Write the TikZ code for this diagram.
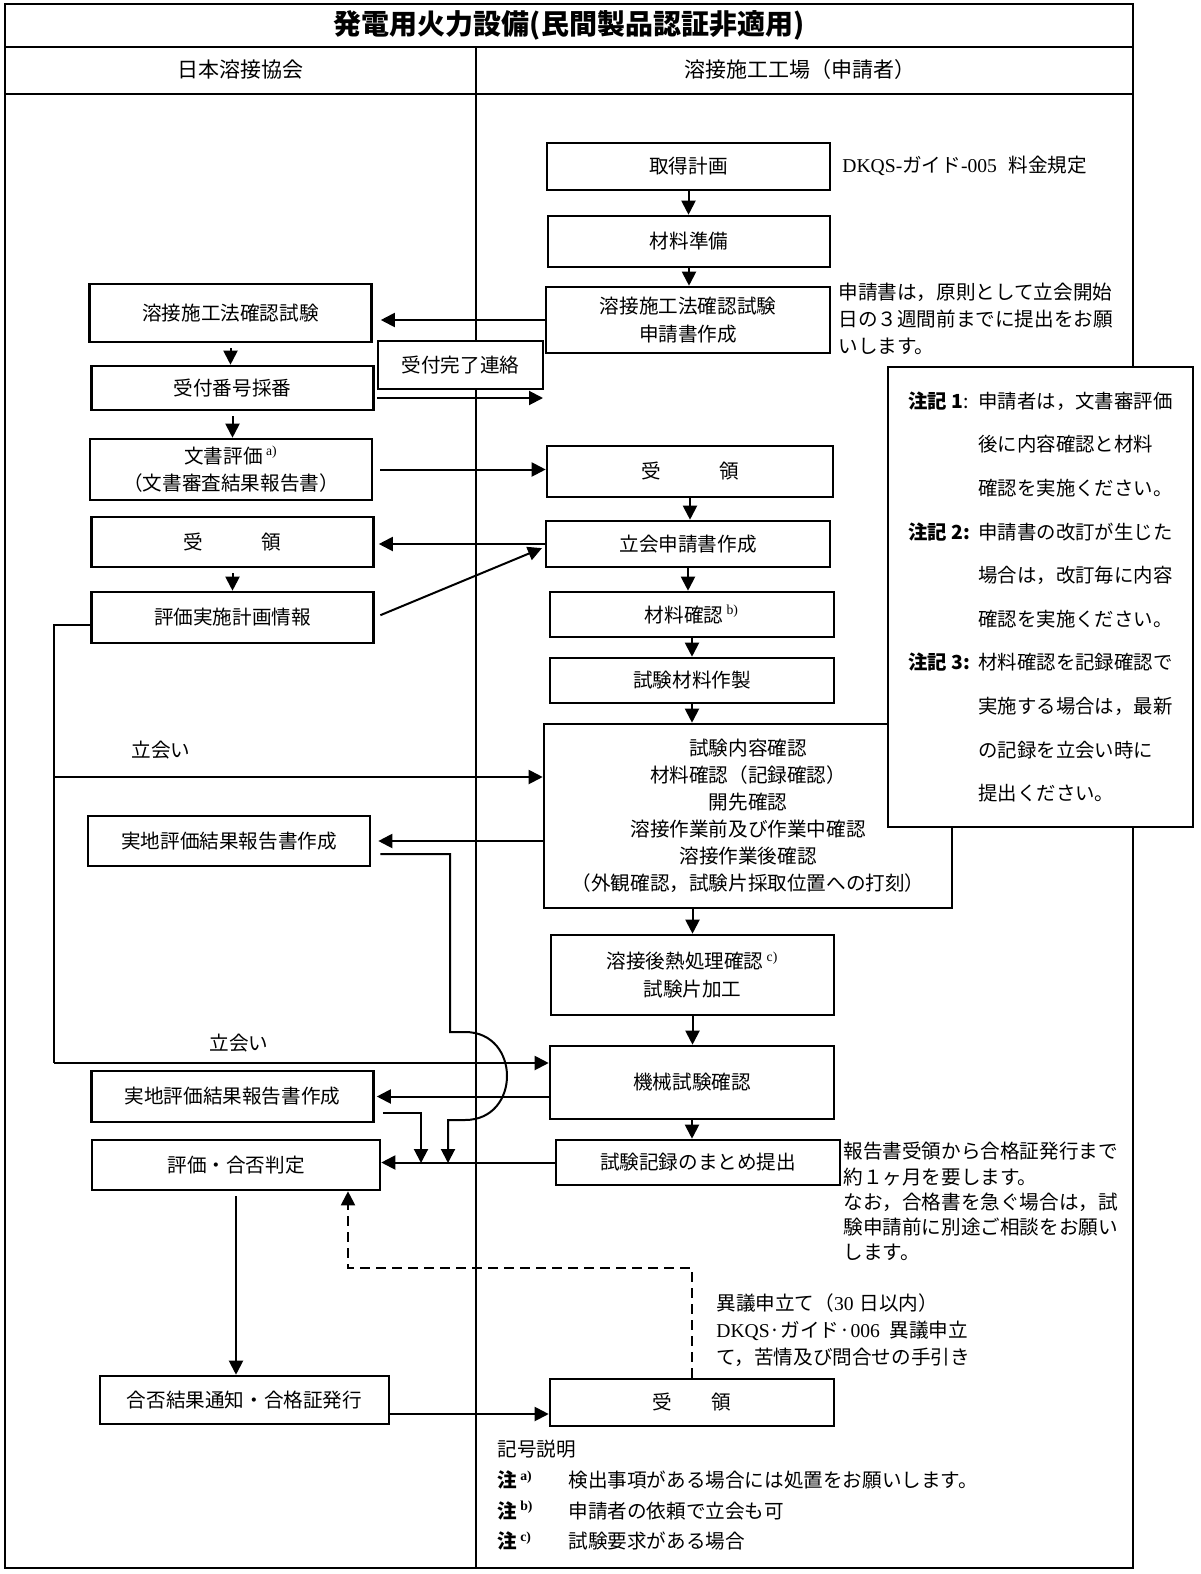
\documentclass[tikz,border=0pt]{standalone}
\usepackage{fontspec}
\setmainfont{Noto Sans CJK JP}
\newfontfamily\lat{Liberation Serif}
\usetikzlibrary{arrows.meta,positioning}

\newcommand{\sups}[1]{\textsuperscript{\lat #1}}

\tikzset{
  box/.style={draw, line width=1.3pt, fill=white, inner sep=0pt, align=center,
    minimum width=141pt, font=\fontsize{9.8}{13.8}\selectfont},
  arr/.style={line width=1pt, -{Triangle[length=7pt,width=7pt]}},
  conn/.style={line width=1pt},
  note/.style={inner sep=0pt, align=left, font=\fontsize{9.8}{13.3}\selectfont},
  frame/.style={line width=1.2pt},
}

\begin{document}
\begin{tikzpicture}[x=0.5pt,y=-0.5pt]
\useasboundingbox (0,0) rectangle (1200,1574);

% frame and headings
\draw[frame] (5,4) rectangle (1133,1568);
\draw[frame] (5,47) -- (1133,47);
\draw[frame] (5,94) -- (1133,94);
\draw[frame] (476,47) -- (476,1568);
\node[font=\bfseries\fontsize{14}{16}\selectfont] (title) at (569,25) {発電用火力設備(民間製品認証非適用)};
\node[font=\fontsize{10.5}{12}\selectfont] (jws) at (240,70) {日本溶接協会};
\node[font=\fontsize{10.5}{12}\selectfont] (shop) at (800,70) {溶接施工工場（申請者）};

% applicant side
\node[box, minimum width=141.5pt, minimum height=23.5pt] (R1) at (688.5,166.5) {取得計画};
\node[box, minimum height=25.5pt] (R2) at (689,241.5) {材料準備};
\node[box, minimum width=142pt, minimum height=33pt] (R3) at (688,320) {溶接施工法確認試験\\申請書作成};
\node[box, minimum width=143pt, minimum height=25.5pt] (R4) at (690,471.5) {受\hspace{3em}領};
\node[box, minimum width=142pt, minimum height=23pt] (R5) at (688,544) {立会申請書作成};
\node[box, minimum width=142pt, minimum height=22.5pt] (R6) at (692,614.5) {材料確認\,\sups{b)}};
\node[box, minimum width=142pt, minimum height=22.5pt] (R7) at (692,680.5) {試験材料作製};
\node[box, minimum width=204pt, minimum height=92pt, font=\fontsize{9.8}{13.5}\selectfont] (R8) at (748,816)
  {試験内容確認\\材料確認（記録確認）\\開先確認\\溶接作業前及び作業中確認\\溶接作業後確認\\（外観確認，試験片採取位置への打刻）};
\node[box, minimum width=141.5pt, minimum height=40pt] (R9) at (692.5,975) {溶接後熱処理確認\,\sups{c)}\\試験片加工};
\node[box, minimum width=142pt, minimum height=36.5pt] (R10) at (692,1082.5) {機械試験確認};
\node[box, minimum width=142pt, minimum height=22.5pt] (R11) at (698,1162.5) {試験記録のまとめ提出};
\node[box, minimum width=142pt, minimum height=23.5pt] (R12) at (692,1402.5) {受\hspace{2em}領};

% association side
\node[box, minimum height=29pt] (L1) at (230.5,313) {溶接施工法確認試験};
\node[box, minimum height=22pt] (L2) at (232.5,388) {受付番号採番};
\node[box, minimum height=30.5pt] (L3) at (231,469.5) {文書評価\,\sups{a)}\\（文書審査結果報告書）};
\node[box, minimum height=25pt] (L4) at (232.5,542) {受\hspace{3em}領};
\node[box, minimum height=25.5pt] (L5) at (232.5,617.5) {評価実施計画情報};
\node[box, minimum height=25pt] (L6) at (229,841) {実地評価結果報告書作成};
\node[box, minimum height=25.5pt] (L7) at (232.5,1096.5) {実地評価結果報告書作成};
\node[box, minimum width=144pt, minimum height=25pt] (L8) at (236,1165) {評価・合否判定};
\node[box, minimum width=144.5pt, minimum height=24pt] (L9) at (244.5,1400) {合否結果通知・合格証発行};
\node[box, line width=1.1pt, minimum width=82.5pt, minimum height=24pt] (K) at (460.5,365) {受付完了連絡};

% side notes
\node[note, anchor=west] (fee) at (842,166) {{\lat DKQS-}ガイド{\lat -005}\hspace{0.6em}料金規定};
\node[note, anchor=north west] (due) at (838,283) {申請書は，原則として立会開始\\日の３週間前までに提出をお願\\いします。};
\node[note, anchor=north west, font=\fontsize{9.8}{12.6}\selectfont] (issue) at (843,1142)
  {報告書受領から合格証発行まで\\約１ヶ月を要します。\\なお，合格書を急ぐ場合は，試\\験申請前に別途ご相談をお願い\\します。};
\node[note, anchor=north west, font=\fontsize{9.8}{13.5}\selectfont] (appeal) at (716,1293)
  {異議申立て（{\lat 30}\hspace{0.3em}日以内）\\{\lat DKQS}·ガイド·{\lat 006}\hspace{0.5em}異議申立\\て，苦情及び問合せの手引き};
\node[note] (tachi1) at (161,750) {立会い};
\node[note] (tachi2) at (239,1043) {立会い};
\node[note, anchor=north west, font=\fontsize{9.8}{15.3}\selectfont] (legend) at (497,1440)
  {記号説明\\
   \makebox[35.5pt][l]{\textbf{注}\,\textsuperscript{\bfseries\lat a)}}検出事項がある場合には処置をお願いします。\\
   \makebox[35.5pt][l]{\textbf{注}\,\textsuperscript{\bfseries\lat b)}}申請者の依頼で立会も可\\
   \makebox[35.5pt][l]{\textbf{注}\,\textsuperscript{\bfseries\lat c)}}試験要求がある場合};

% right column flow
\draw[arr] (R1.south) -- (R1.south |- R2.north);
\draw[arr] (R2.south) -- (R2.south |- R3.north);
\draw[arr] (R4.south) -- (R4.south |- R5.north);
\draw[arr] (R5.south) -- (R5.south |- R6.north);
\draw[arr] (R6.south) -- (R6.south |- R7.north);
\draw[arr] (R7.south) -- (R7.south |- R8.north);
\draw[arr] (R9.north |- R8.south) -- (R9.north);
\draw[arr] (R9.south) -- (R9.south |- R10.north);
\draw[arr] (R10.south) -- (R10.south |- R11.north);

% left column flow
\draw[arr, shorten <=2.5pt] (L1.south) -- (L1.south |- L2.north);
\draw[arr, shorten <=2.5pt] (L2.south) -- (L2.south |- L3.north);
\draw[arr, shorten <=2.5pt] (L4.south) -- (L4.south |- L5.north);
\draw[arr, shorten <=2.5pt] (L8.south) -- (L8.south |- L9.north);

% between the two sides
\coordinate (k1) at (543,398);
\draw[arr, shorten >=4pt] (R3.west) -- (R3.west -| L1.east);
\draw[arr, shorten <=1pt] (L2.east |- k1) -- (k1);
\draw[arr, shorten <=3.5pt] (L3.east) -- (L3.east -| R4.west);
\draw[arr, shorten >=2pt] (R5.west) -- (R5.west -| L4.east);
\draw[arr, shorten <=3pt, shorten >=1.5pt] (L5.east) -- ([yshift=-1.5pt]R5.west);

% witness lines
\coordinate (w0) at (54,625);
\coordinate (w1) at (54,777);
\coordinate (w2) at (54,1063);
\draw[conn] ([yshift=-3.75pt]L5.west) -- (w0) -- (w2);
\draw[arr] (w1) -- (w1 -| R8.west);
\draw[arr] (w2) -- (w2 -| R10.west);

% reports
\draw[arr, shorten >=3.5pt] (R8.west |- L6.east) -- (L6.east);
\draw[arr, shorten >=1pt] (R10.west |- L7.east) -- (L7.east);
\draw[arr] (R11.west) -- (R11.west -| L8.east);

\coordinate (j0) at (450,854);
\coordinate (j1) at (450,1032);
\coordinate (j2) at (465,1032);
\coordinate (j3) at (465,1120);
\coordinate (j4) at (448,1120);
\coordinate (m2) at (448,1163);
\draw[arr, shorten <=4.5pt] (L6.east |- j0) -- (j0) -- (j1) -- (j2)
  .. controls (521,1032) and (521,1120) .. (j3) -- (j4) -- (m2);
\coordinate (n0) at (421,1113);
\coordinate (m1) at (421,1163);
\draw[arr, shorten <=4pt] (L7.east |- n0) -- (n0) -- (m1);

% certificate and appeal
\draw[arr] ([yshift=-7pt]L9.east) -- ([yshift=-7pt]L9.east -| R12.west);
\coordinate (d0) at (348,1268);
\draw[arr, dash pattern=on 5pt off 3pt] (R12.north) |- (d0) -- (d0 |- L8.south);

% remarks box
\node[draw, line width=1pt, fill=white, minimum width=152.5pt, minimum height=230pt, inner sep=0pt,
  align=left, font=\fontsize{9.7}{21.8}\selectfont] (memo) at (1040.5,597)
  {\makebox[35pt][l]{\textbf{注記 1}:}申請者は，文書審評価\\
   \hspace*{35pt}後に内容確認と材料\\
   \hspace*{35pt}確認を実施ください。\\
   \makebox[35pt][l]{\textbf{注記 2:}}申請書の改訂が生じた\\
   \hspace*{35pt}場合は，改訂毎に内容\\
   \hspace*{35pt}確認を実施ください。\\
   \makebox[35pt][l]{\textbf{注記 3:}}材料確認を記録確認で\\
   \hspace*{35pt}実施する場合は，最新\\
   \hspace*{35pt}の記録を立会い時に\\
   \hspace*{35pt}提出ください。};
\end{tikzpicture}
\end{document}
